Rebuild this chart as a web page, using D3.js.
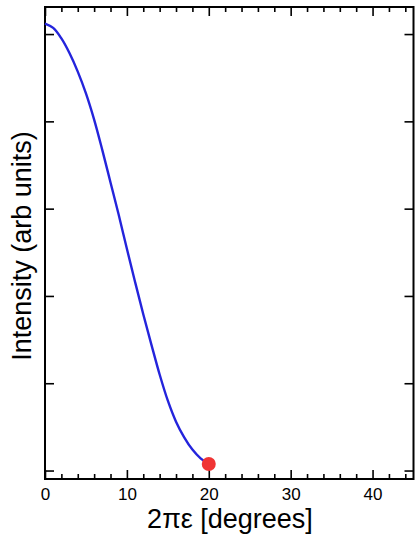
<!DOCTYPE html>
<html>
<head>
<meta charset="utf-8">
<script src="https://cdn.jsdelivr.net/npm/d3@7"></script>
<style>
  html, body { margin: 0; padding: 0; background: #fff; }
  svg { display: block; font-family: "Liberation Sans", Arial, Helvetica, sans-serif; }
</style>
</head>
<body>
<svg id="chart" width="416" height="534"></svg>
<script>
// Diffraction intensity versus the angle 2πε
const angle = [0, 1, 2, 3, 4, 5, 6, 7, 8, 9, 10, 11, 12, 13, 14, 15, 16, 17, 18, 19, 20];
const intensity = [5.12, 5.07, 4.95, 4.78, 4.57, 4.32, 4.02, 3.67, 3.30, 2.93, 2.54, 2.16, 1.79, 1.44, 1.10, 0.80, 0.56, 0.38, 0.24, 0.14, 0.075];
const markerAngle = [20];
const markerIntensity = [0.075];
const xMajorTicks = [0, 10, 20, 30, 40];
const xMinorTicks = [2, 4, 6, 8, 12, 14, 16, 18, 22, 24, 26, 28, 32, 34, 36, 38, 42, 44];
const yTicks = [0, 1, 2, 3, 4, 5];
const xDomain = [0, 45];
const yDomain = [-0.097, 5.31];

const W = 416, H = 534;
const margin = { top: 7, right: 2.5, bottom: 55, left: 45 };
const svg = d3.select("#chart");

const x = d3.scaleLinear().domain(xDomain).range([margin.left, W - margin.right]);
const y = d3.scaleLinear().domain(yDomain).range([H - margin.bottom, margin.top]);

const majorLen = 9, minorLen = 5;

function styleAxis(g) {
  g.select(".domain").remove();
  g.selectAll(".tick line").attr("stroke", "#000").attr("stroke-width", 1.6);
}

// bottom axis with labels
svg.append("g")
  .attr("transform", `translate(0,${y.range()[0]})`)
  .call(d3.axisBottom(x).tickValues(xMajorTicks).tickSize(-majorLen).tickPadding(9).tickFormat(d3.format("d")))
  .call(styleAxis)
  .call(g => g.selectAll("text").attr("fill", "#000").attr("font-size", 17).attr("font-family", "Liberation Sans, Arial, sans-serif"));
svg.append("g")
  .attr("transform", `translate(0,${y.range()[0]})`)
  .call(d3.axisBottom(x).tickValues(xMinorTicks).tickSize(-minorLen).tickFormat(""))
  .call(styleAxis);

// top axis, ticks only
svg.append("g")
  .attr("transform", `translate(0,${y.range()[1]})`)
  .call(d3.axisTop(x).tickValues(xMajorTicks).tickSize(-majorLen).tickFormat(""))
  .call(styleAxis);
svg.append("g")
  .attr("transform", `translate(0,${y.range()[1]})`)
  .call(d3.axisTop(x).tickValues(xMinorTicks).tickSize(-minorLen).tickFormat(""))
  .call(styleAxis);

// left and right axes, ticks only
svg.append("g")
  .attr("transform", `translate(${x.range()[0]},0)`)
  .call(d3.axisLeft(y).tickValues(yTicks).tickSize(-majorLen).tickFormat(""))
  .call(styleAxis);
svg.append("g")
  .attr("transform", `translate(${x.range()[1]},0)`)
  .call(d3.axisRight(y).tickValues(yTicks).tickSize(-majorLen).tickFormat(""))
  .call(styleAxis);

// plot frame
svg.append("rect")
  .attr("x", x.range()[0])
  .attr("y", y.range()[1])
  .attr("width", x.range()[1] - x.range()[0])
  .attr("height", y.range()[0] - y.range()[1])
  .attr("fill", "none")
  .attr("stroke", "#000")
  .attr("stroke-width", 2);

// intensity curve
const pts = angle.map((a, i) => [a, intensity[i]]);
svg.append("path")
  .datum(pts)
  .attr("fill", "none")
  .attr("stroke", "#2424dc")
  .attr("stroke-width", 2.4)
  .attr("d", d3.line().x(d => x(d[0])).y(d => y(d[1])).curve(d3.curveCatmullRom));

// end-point marker
svg.selectAll("circle.marker")
  .data(markerAngle.map((a, i) => [a, markerIntensity[i]]))
  .join("circle")
  .attr("class", "marker")
  .attr("cx", d => x(d[0]))
  .attr("cy", d => y(d[1]))
  .attr("r", 7)
  .attr("fill", "#f03434");

// axis titles
svg.append("text")
  .attr("x", 230)
  .attr("y", 528)
  .attr("text-anchor", "middle")
  .attr("font-size", 27)
  .attr("fill", "#000")
  .text("2πε [degrees]");

svg.append("text")
  .attr("transform", `translate(31,246) rotate(-90)`)
  .attr("text-anchor", "middle")
  .attr("font-size", 27)
  .attr("fill", "#000")
  .text("Intensity (arb units)");
</script>
</body>
</html>
